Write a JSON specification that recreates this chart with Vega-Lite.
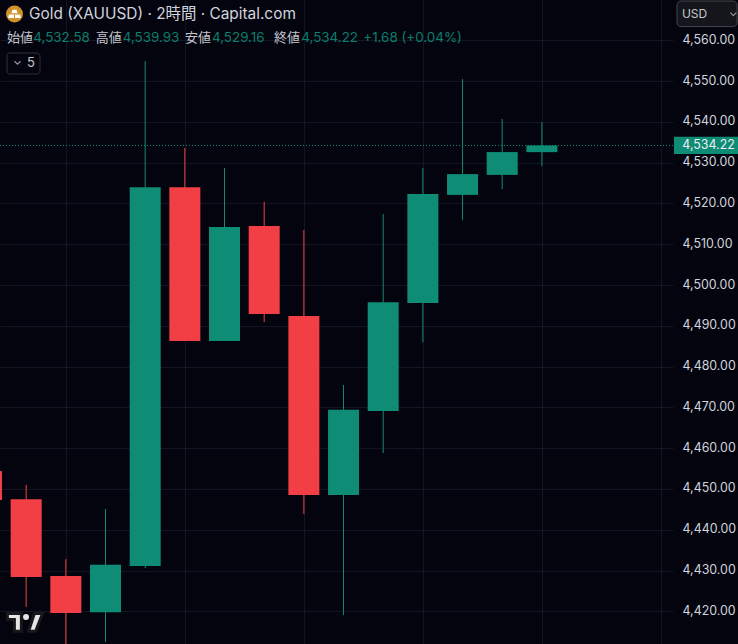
{
  "$schema": "https://vega.github.io/schema/vega-lite/v6.json",
  "description": "Gold (XAUUSD) 2 hour candlesticks, dark theme.",
  "width": 673,
  "height": 644,
  "autosize": {"type": "none"},
  "padding": {"left": 0, "top": 0, "right": 65, "bottom": 0},
  "background": "#04040f",
  "config": {
    "view": {"stroke": null},
    "text": {"font": "Inter, Noto Sans CJK JP", "align": "left", "baseline": "middle", "fontSize": 13}
  },
  "datasets": {
    "candles": [
      {"bar": 0, "open": 4454.4, "high": 4454.4, "low": 4447.3, "close": 4447.3},
      {"bar": 1, "open": 4447.5, "high": 4451.0, "low": 4421.1, "close": 4428.4},
      {"bar": 2, "open": 4428.7, "high": 4432.8, "low": 4410.0, "close": 4419.6},
      {"bar": 3, "open": 4419.8, "high": 4445.1, "low": 4412.5, "close": 4431.4},
      {"bar": 4, "open": 4431.1, "high": 4554.9, "low": 4430.6, "close": 4524.0},
      {"bar": 5, "open": 4524.0, "high": 4533.6, "low": 4486.3, "close": 4486.3},
      {"bar": 6, "open": 4486.3, "high": 4528.7, "low": 4486.3, "close": 4514.2},
      {"bar": 7, "open": 4514.5, "high": 4520.4, "low": 4490.9, "close": 4492.9},
      {"bar": 8, "open": 4492.4, "high": 4513.5, "low": 4443.9, "close": 4448.5},
      {"bar": 9, "open": 4448.5, "high": 4475.5, "low": 4419.1, "close": 4469.4},
      {"bar": 10, "open": 4469.1, "high": 4517.4, "low": 4458.8, "close": 4495.8},
      {"bar": 11, "open": 4495.6, "high": 4528.7, "low": 4486.0, "close": 4522.3},
      {"bar": 12, "open": 4522.1, "high": 4550.5, "low": 4515.9, "close": 4527.2},
      {"bar": 13, "open": 4527.0, "high": 4540.7, "low": 4523.5, "close": 4532.6},
      {"bar": 14, "open": 4532.58, "high": 4539.93, "low": 4529.16, "close": 4534.22}
    ]
  },
  "data": {"name": "candles"},
  "layer": [
    {
      "mark": {"type": "rule", "strokeWidth": 1, "clip": true},
      "encoding": {
        "x": {
          "field": "bar",
          "type": "quantitative",
          "scale": {"domain": [0.3403, 17.305], "nice": false, "zero": false, "padding": 0},
          "axis": {"title": null, "values": [2, 5, 8, 11, 14, 17], "labels": false, "ticks": false, "domain": false, "grid": true, "gridColor": "#131622", "gridWidth": 1}
        },
        "y": {
          "field": "low",
          "type": "quantitative",
          "scale": {"domain": [4412, 4569.88], "nice": false, "zero": false},
          "axis": {
            "title": null,
            "orient": "right",
            "values": [4420, 4430, 4440, 4450, 4460, 4470, 4480, 4490, 4500, 4510, 4520, 4530, 4540, 4550, 4560],
            "format": ",.2f",
            "ticks": false,
            "domain": false,
            "grid": true,
            "gridColor": "#131622",
            "gridWidth": 1,
            "labelColor": "#d1d4dc",
            "labelFont": "Inter",
            "labelFontSize": 12.4,
            "labelPadding": 9,
            "labelAlign": "left",
            "labelOffset": -1
          }
        },
        "y2": {"field": "high"},
        "color": {"condition": {"test": "datum.close >= datum.open", "value": "#0f8c76"}, "value": "#f23f45"}
      }
    },
    {
      "mark": {"type": "bar", "size": 31, "clip": true},
      "encoding": {
        "x": {"field": "bar", "type": "quantitative", "scale": {"padding": 0}},
        "y": {"field": "open", "type": "quantitative"},
        "y2": {"field": "close"},
        "color": {"condition": {"test": "datum.close >= datum.open", "value": "#0f8c76"}, "value": "#f23f45"}
      }
    },
    {
      "transform": [{"filter": "datum.bar == 14"}],
      "mark": {"type": "rule", "color": "#128f79", "strokeWidth": 1, "strokeDash": [1, 2]},
      "encoding": {"y": {"field": "close", "type": "quantitative"}}
    },
    {
      "transform": [{"filter": "datum.bar == 14"}],
      "mark": {"type": "rect", "color": "#0f8c76"},
      "encoding": {
        "x": {"datum": 17.33, "type": "quantitative"},
        "x2": {"datum": 18.95},
        "y": {"datum": 4536.34, "type": "quantitative"},
        "y2": {"datum": 4532.1}
      }
    },
    {
      "transform": [{"filter": "datum.bar == 14"}],
      "mark": {"type": "text", "color": "#eceef2", "fontSize": 12.4},
      "encoding": {
        "x": {"datum": 17.54, "type": "quantitative"},
        "y": {"field": "close", "type": "quantitative"},
        "text": {"field": "close", "type": "quantitative", "format": ",.2f"}
      }
    },
    {
      "data": {"values": [{"label": "USD"}]},
      "mark": {"type": "rect", "fill": "#15151c", "stroke": "#45464d", "cornerRadius": 4},
      "encoding": {
        "x": {"datum": 17.406, "type": "quantitative"},
        "x2": {"datum": 18.92},
        "y": {"datum": 4569.63, "type": "quantitative"},
        "y2": {"datum": 4563.36}
      }
    },
    {
      "data": {"values": [{"label": "USD"}]},
      "mark": {"type": "text", "color": "#c4c6cc", "fontSize": 12},
      "encoding": {
        "x": {"datum": 17.53, "type": "quantitative"},
        "y": {"datum": 4566.57, "type": "quantitative"},
        "text": {"field": "label"}
      }
    },
    {
      "data": {"values": [{"label": "USD"}]},
      "mark": {"type": "point", "shape": "M-1,-0.5L0,0.5L1,-0.5", "size": 36, "stroke": "#c4c6cc", "strokeWidth": 1.2, "filled": false},
      "encoding": {
        "x": {"datum": 18.825, "type": "quantitative"},
        "y": {"datum": 4566.4, "type": "quantitative"}
      }
    },
    {
      "data": {"values": [{"label": "5"}]},
      "mark": {"type": "rect", "fill": "#04040f", "stroke": "#2f3039", "cornerRadius": 3},
      "encoding": {
        "x": {"datum": 0.5168, "type": "quantitative"},
        "x2": {"datum": 1.349},
        "y": {"datum": 4556.89, "type": "quantitative"},
        "y2": {"datum": 4551.74}
      }
    },
    {
      "data": {"values": [{"label": "5"}]},
      "mark": {"type": "point", "shape": "M-1,-0.5L0,0.5L1,-0.5", "size": 36, "stroke": "#d1d4dc", "strokeWidth": 1.2, "filled": false},
      "encoding": {
        "x": {"datum": 0.781, "type": "quantitative"},
        "y": {"datum": 4554.5, "type": "quantitative"}
      }
    },
    {
      "data": {"values": [{"label": "5"}]},
      "mark": {"type": "text", "color": "#c4c6cc", "fontSize": 13},
      "encoding": {
        "x": {"datum": 1.02, "type": "quantitative"},
        "y": {"datum": 4554.43, "type": "quantitative"},
        "text": {"field": "label"}
      }
    },
    {
      "data": {"values": [{"label": "Gold"}]},
      "mark": {"type": "point", "shape": "circle", "size": 289, "filled": true, "color": "#d0932c", "opacity": 1},
      "encoding": {
        "x": {"datum": 0.706, "type": "quantitative"},
        "y": {"datum": 4566.45, "type": "quantitative"}
      }
    },
    {
      "data": {"values": [{"label": "Gold"}]},
      "mark": {"type": "point", "shape": "M-0.24,-0.5L0.24,-0.5L0.36,-0.08L-0.36,-0.08ZM-0.66,0.06L-0.06,0.06L-0.06,0.46L-0.76,0.46ZM0.06,0.06L0.66,0.06L0.76,0.46L0.06,0.46Z", "size": 289, "filled": true, "color": "#ffffff", "opacity": 1},
      "encoding": {
        "x": {"datum": 0.706, "type": "quantitative"},
        "y": {"datum": 4566.45, "type": "quantitative"}
      }
    },
    {
      "data": {"values": [{"label": "Gold (XAUUSD) · 2時間 · Capital.com"}]},
      "mark": {"type": "text", "color": "#d1d4dc", "fontSize": 15.4},
      "encoding": {
        "x": {"datum": 1.07, "type": "quantitative"},
        "y": {"datum": 4566.45, "type": "quantitative"},
        "text": {"field": "label"}
      }
    },
    {
      "data": {"values": [{"label": "始値"}]},
      "mark": {"type": "text", "color": "#c4c6cc"},
      "encoding": {"x": {"datum": 0.517, "type": "quantitative"}, "y": {"datum": 4560.56, "type": "quantitative"}, "text": {"field": "label"}}
    },
    {
      "data": {"values": [{"label": "4,532.58"}]},
      "mark": {"type": "text", "color": "#0b7f6b", "fontSize": 13.4},
      "encoding": {"x": {"datum": 1.18, "type": "quantitative"}, "y": {"datum": 4560.56, "type": "quantitative"}, "text": {"field": "label"}}
    },
    {
      "data": {"values": [{"label": "高値"}]},
      "mark": {"type": "text", "color": "#c4c6cc"},
      "encoding": {"x": {"datum": 2.753, "type": "quantitative"}, "y": {"datum": 4560.56, "type": "quantitative"}, "text": {"field": "label"}}
    },
    {
      "data": {"values": [{"label": "4,539.93"}]},
      "mark": {"type": "text", "color": "#0b7f6b", "fontSize": 13.4},
      "encoding": {"x": {"datum": 3.433, "type": "quantitative"}, "y": {"datum": 4560.56, "type": "quantitative"}, "text": {"field": "label"}}
    },
    {
      "data": {"values": [{"label": "安値"}]},
      "mark": {"type": "text", "color": "#c4c6cc"},
      "encoding": {"x": {"datum": 5.004, "type": "quantitative"}, "y": {"datum": 4560.56, "type": "quantitative"}, "text": {"field": "label"}}
    },
    {
      "data": {"values": [{"label": "4,529.16"}]},
      "mark": {"type": "text", "color": "#0b7f6b", "fontSize": 13.4},
      "encoding": {"x": {"datum": 5.684, "type": "quantitative"}, "y": {"datum": 4560.56, "type": "quantitative"}, "text": {"field": "label"}}
    },
    {
      "data": {"values": [{"label": "終値"}]},
      "mark": {"type": "text", "color": "#c4c6cc"},
      "encoding": {"x": {"datum": 7.247, "type": "quantitative"}, "y": {"datum": 4560.56, "type": "quantitative"}, "text": {"field": "label"}}
    },
    {
      "data": {"values": [{"label": "4,534.22"}]},
      "mark": {"type": "text", "color": "#0b7f6b", "fontSize": 13.4},
      "encoding": {"x": {"datum": 7.936, "type": "quantitative"}, "y": {"datum": 4560.56, "type": "quantitative"}, "text": {"field": "label"}}
    },
    {
      "data": {"values": [{"label": "+1.68 (+0.04%)"}]},
      "mark": {"type": "text", "color": "#0b7f6b", "fontSize": 13.4},
      "encoding": {"x": {"datum": 9.498, "type": "quantitative"}, "y": {"datum": 4560.56, "type": "quantitative"}, "text": {"field": "label"}}
    },
    {
      "data": {"values": [{"label": "TradingView"}]},
      "mark": {"type": "point", "shape": "M-0.88,-0.44L-0.18,-0.44L-0.18,0.44L-0.53,0.44L-0.53,-0.15L-0.88,-0.15ZM0.47,-0.44L0.88,-0.44L0.53,0.44L0.18,0.44Z", "size": 1600, "filled": true, "color": "#e6e6e6", "stroke": "#17171c", "strokeWidth": 3, "opacity": 1},
      "encoding": {
        "x": {"datum": 0.97, "type": "quantitative"},
        "y": {"datum": 4417.3, "type": "quantitative"}
      }
    },
    {
      "data": {"values": [{"label": "TradingView"}]},
      "mark": {"type": "point", "shape": "circle", "size": 36, "filled": true, "color": "#e6e6e6", "opacity": 1},
      "encoding": {
        "x": {"datum": 0.996, "type": "quantitative"},
        "y": {"datum": 4418.6, "type": "quantitative"}
      }
    }
  ]
}
